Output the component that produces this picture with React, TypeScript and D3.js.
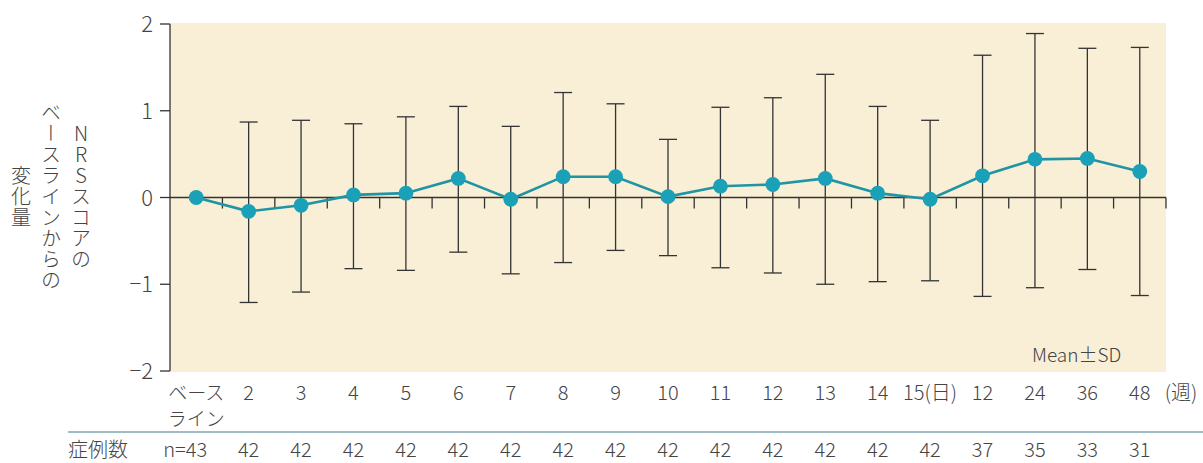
import React from 'react';
import * as d3 from 'd3';

// x categories (weeks; first ones labelled in 日 for 15)
const categories = ['ベース', '2', '3', '4', '5', '6', '7', '8', '9', '10', '11', '12', '13', '14', '15(日)', '12', '24', '36', '48'];
const means = [0, -0.16, -0.09, 0.03, 0.05, 0.22, -0.02, 0.24, 0.24, 0.01, 0.13, 0.15, 0.22, 0.05, -0.02, 0.25, 0.44, 0.45, 0.3];
const upper = [0, 0.87, 0.89, 0.85, 0.93, 1.05, 0.82, 1.21, 1.08, 0.67, 1.04, 1.15, 1.42, 1.05, 0.89, 1.64, 1.89, 1.72, 1.73];
const lower = [0, -1.21, -1.09, -0.82, -0.84, -0.63, -0.88, -0.75, -0.61, -0.67, -0.81, -0.87, -1.0, -0.97, -0.96, -1.14, -1.04, -0.83, -1.13];
const counts = ['n=43', '42', '42', '42', '42', '42', '42', '42', '42', '42', '42', '42', '42', '42', '42', '37', '35', '33', '31'];
const yTicks = [-2, -1, 0, 1, 2];
const yLabelCols = ['NRSスコアの', 'ベースラインからの', '変化量'];

const FONT = "'Noto Sans CJK JP', 'Noto Sans', sans-serif";
const TEXT = '#444';
const TEAL = '#1aa1b7';
const LINE = '#1f94a3';
const BAR = '#333';

export default function App() {
  const left = 170, right = 1166, top = 24, bottom = 371;
  const idx = categories.map((_, i) => String(i));
  const x = d3.scaleBand().domain(idx).range([left, right]).padding(0);
  const y = d3.scaleLinear().domain([-2, 2]).range([bottom, top]);
  const cx = (i: number) => x(String(i))! + x.bandwidth() / 2;
  const line = d3.line<number>().x((_, i) => cx(i)).y(d => y(d));
  const y0 = y(0);
  const cap = 9;

  return (
    <svg width={1203} height={463} style={{ position: 'absolute', left: 0, top: 0, background: '#fff' }} fontFamily={FONT}>
      <rect x={left} y={top - 1} width={right - left} height={bottom - top + 2} fill="#f8efd6" />

      {/* y axis */}
      <line x1={left} x2={left} y1={top} y2={bottom} stroke={BAR} strokeWidth={1.3} />
      {yTicks.map(t => (
        <g key={t}>
          <line x1={left - 10} x2={left} y1={y(t)} y2={y(t)} stroke={BAR} strokeWidth={1.3} />
          <text x={153} y={y(t) + 8} textAnchor="end" fontSize={22} fontWeight={300} fill={TEXT}>
            {t < 0 ? '\u2212' + Math.abs(t) : t}
          </text>
        </g>
      ))}

      {/* zero line with ticks at band edges */}
      <line x1={left} x2={right} y1={y0} y2={y0} stroke={BAR} strokeWidth={1.3} />
      {idx.slice(1).concat(['end']).map((k, i) => {
        const xx = k === 'end' ? right : x(k)!;
        return <line key={'t' + i} x1={xx} x2={xx} y1={y0} y2={y0 + 11} stroke={BAR} strokeWidth={1.3} />;
      })}

      {/* error bars */}
      {means.map((m, i) => i === 0 ? null : (
        <g key={'e' + i} stroke={BAR} strokeWidth={1.3}>
          <line x1={cx(i)} x2={cx(i)} y1={y(upper[i])} y2={y(lower[i])} />
          <line x1={cx(i) - cap} x2={cx(i) + cap} y1={y(upper[i])} y2={y(upper[i])} />
          <line x1={cx(i) - cap} x2={cx(i) + cap} y1={y(lower[i])} y2={y(lower[i])} />
        </g>
      ))}

      {/* mean line + markers */}
      <path d={line(means)!} fill="none" stroke={LINE} strokeWidth={2.6} />
      {means.map((m, i) => (
        <circle key={'c' + i} cx={cx(i)} cy={y(m)} r={7.4} fill={TEAL} />
      ))}

      <text x={1032} y={362} fontSize={19} fontWeight={300} fill={TEXT}>Mean±SD</text>

      {/* x labels */}
      {categories.map((c, i) => (
        <text key={'x' + i} x={cx(i)} y={400} textAnchor="middle" fontSize={i === 0 ? 19 : 20} fontWeight={300} fill={TEXT}>{c}</text>
      ))}
      <text x={cx(0)} y={426} textAnchor="middle" fontSize={19} fontWeight={300} fill={TEXT}>ライン</text>
      <text x={1181} y={400} textAnchor="middle" fontSize={20} fontWeight={300} fill={TEXT}>(週)</text>

      {/* separator + counts */}
      <line x1={68} x2={1203} y1={432} y2={432} stroke="#7fa6b0" strokeWidth={1.6} />
      <text x={68} y={457} fontSize={20} fontWeight={300} fill={TEXT}>症例数</text>
      {counts.map((c, i) => (
        <text key={'n' + i} x={i === 0 ? cx(0) - 11 : cx(i)} y={457} textAnchor="middle" fontSize={20} fontWeight={300} fill={TEXT}>{c}</text>
      ))}

      {/* vertical y-axis title */}
      {yLabelCols.map((s, i) => (
        <text key={'yl' + i} x={81 - i * 30} y={197} textAnchor="middle" fontSize={20} fontWeight={300} fill={TEXT}
          style={{ writingMode: 'vertical-rl', textOrientation: 'upright', letterSpacing: '1px' }}>{s}</text>
      ))}
    </svg>
  );
}
